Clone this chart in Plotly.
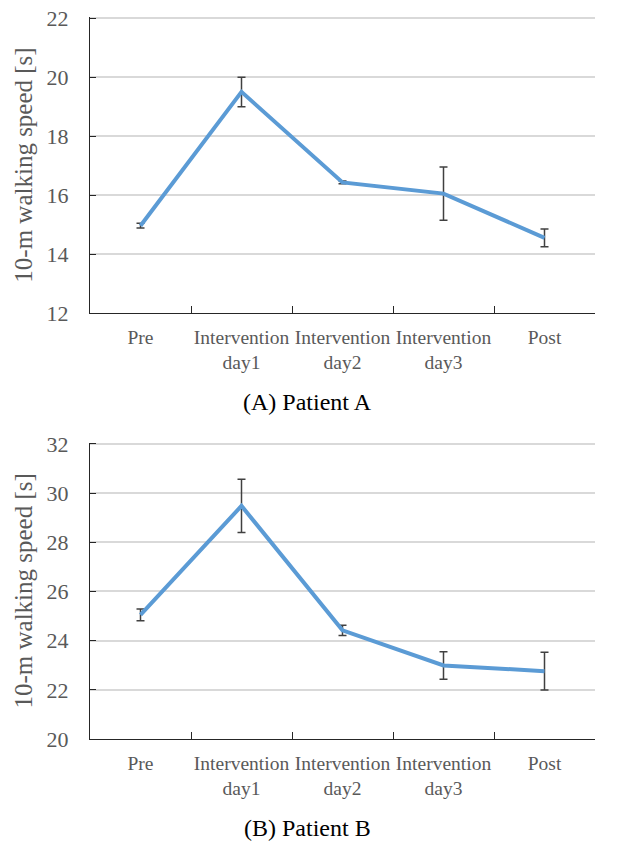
import plotly.graph_objects as go

categories = ["Pre", "Intervention<br>day1", "Intervention<br>day2", "Intervention<br>day3", "Post"]
patient_a = [14.96, 19.5, 16.43, 16.05, 14.55]
patient_a_err = [0.08, 0.5, 0.05, 0.9, 0.3]
patient_b = [25.05, 29.48, 24.42, 22.99, 22.76]
patient_b_err = [0.24, 1.08, 0.21, 0.56, 0.77]
y_title = "10-m walking speed [s]"
captions = ["(A) Patient A", "(B) Patient B"]

W, H = 621, 841
ML, MT = 90, 17
PR = 595          # right edge of plot area
PB = 739          # bottom edge of lower plot area
MR, MB = W - PR, H - PB
PW, PH = W - ML - MR, H - MT - MB

line_color = "#5B9BD5"
err_color = "#404040"
font_family = "Liberation Serif, Times New Roman, serif"

fig = go.Figure()
for i, (vals, errs) in enumerate([(patient_a, patient_a_err), (patient_b, patient_b_err)]):
    fig.add_trace(go.Scatter(
        x=categories, y=vals, mode="lines",
        line=dict(color=line_color, width=4),
        error_y=dict(type="data", array=errs, visible=True, color=err_color, thickness=1.5, width=4),
        xaxis="x" if i == 0 else "x2", yaxis="y" if i == 0 else "y2",
        showlegend=False,
    ))

def ydom(top_px, bot_px):
    return [1 - (bot_px - MT) / PH, 1 - (top_px - MT) / PH]

def px_x(x_ref):
    return (x_ref - ML) / PW

def px_y(y_ref):
    return (H - MB - y_ref) / PH

xaxis_common = dict(
    domain=[0, 1], type="category", range=[-0.5, 4.5], automargin=False,
    showline=True, linecolor="#262626", linewidth=1.2,
    ticks="inside", tickson="boundaries", ticklen=7, tickcolor="#262626", tickwidth=1,
    showgrid=False, zeroline=False, tickangle=0,
    tickfont=dict(family=font_family, size=19.5, color="#595959"),
    ticklabelstandoff=6,
)
yaxis_common = dict(
    automargin=False, ticklabeloverflow="allow",
    showline=True, linecolor="#262626", linewidth=1.2,
    ticks="inside", ticklen=6, tickcolor="#262626", tickwidth=1,
    showgrid=True, gridcolor="#D9D9D9", gridwidth=1.5,
    zeroline=False, tick0=0, dtick=2,
    tickfont=dict(family=font_family, size=22, color="#595959"),
    ticklabelstandoff=16,
    title=dict(text=y_title, font=dict(family=font_family, size=25, color="#595959"), standoff=6),
)

fig.update_layout(
    template="none",
    width=W, height=H,
    margin=dict(l=ML, r=MR, t=MT, b=MB),
    paper_bgcolor="white", plot_bgcolor="white",
    xaxis=dict(**xaxis_common, anchor="y"),
    xaxis2=dict(**xaxis_common, anchor="y2"),
    yaxis=dict(**yaxis_common, domain=ydom(17, 313), range=[12, 22.04], anchor="x"),
    yaxis2=dict(**yaxis_common, domain=ydom(442.7, 739), range=[20, 32.05], anchor="x2"),
    annotations=[
        dict(text=captions[0], x=px_x(307), y=px_y(402), xref="paper", yref="paper",
             xanchor="center", yanchor="middle",
             showarrow=False, font=dict(family=font_family, size=24, color="black")),
        dict(text=captions[1], x=px_x(307), y=px_y(828), xref="paper", yref="paper",
             xanchor="center", yanchor="middle",
             showarrow=False, font=dict(family=font_family, size=24, color="black")),
    ],
)

fig.write_html("out.html", config={"displayModeBar": False},
               post_script="document.body.style.margin='0px';")
